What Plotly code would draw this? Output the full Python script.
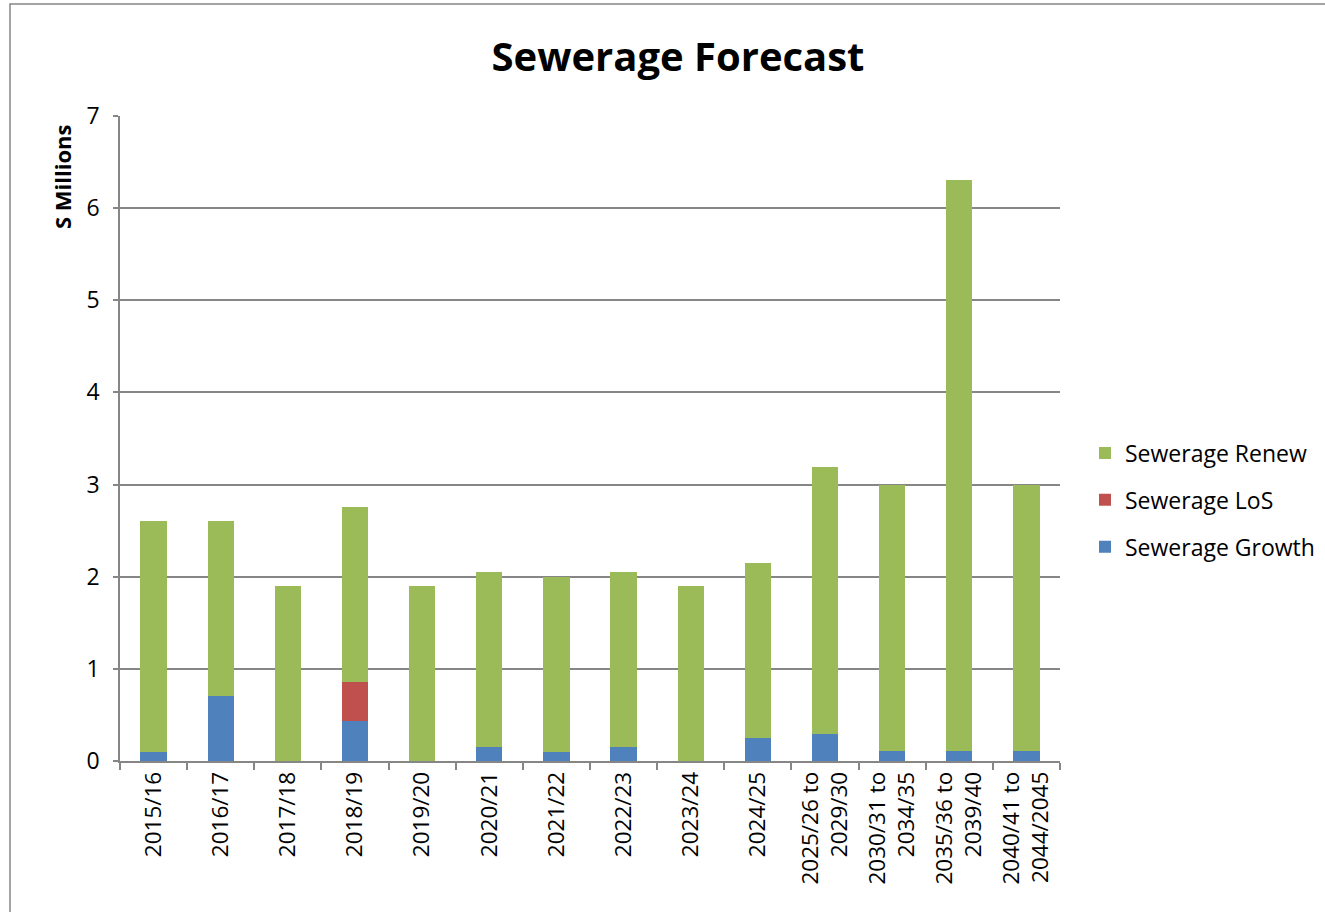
import plotly.graph_objects as go

# Financial years / periods on the category axis
periods = [
    "2015/16", "2016/17", "2017/18", "2018/19", "2019/20", "2020/21",
    "2021/22", "2022/23", "2023/24", "2024/25",
    "2025/26 to<br>2029/30", "2030/31 to<br>2034/35",
    "2035/36 to<br>2039/40", "2040/41 to<br>2044/2045",
]

# Spend per programme, $ millions
growth = [0.10, 0.71, 0.00, 0.43, 0.00, 0.15, 0.10, 0.15, 0.00, 0.25, 0.29, 0.11, 0.11, 0.11]
los = [0.00, 0.00, 0.00, 0.43, 0.00, 0.00, 0.00, 0.00, 0.00, 0.00, 0.00, 0.00, 0.00, 0.00]
renew = [2.50, 1.90, 1.90, 1.90, 1.90, 1.90, 1.90, 1.90, 1.90, 1.90, 2.90, 2.89, 6.20, 2.89]

GREEN = "#9BBB59"
RED = "#C0504D"
BLUE = "#4F81BD"
GRID = "#868686"
FONT = "Open Sans"

fig = go.Figure()
fig.add_trace(go.Bar(x=periods, y=growth, name="Sewerage Growth", marker_color=BLUE,
                     marker_line_width=0, legendgroup="g", legendrank=3))
fig.add_trace(go.Bar(x=periods, y=los, name="Sewerage LoS", marker_color=RED,
                     marker_line_width=0, legendgroup="l", legendrank=2))
fig.add_trace(go.Bar(x=periods, y=renew, name="Sewerage Renew", marker_color=GREEN,
                     marker_line_width=0, legendgroup="r", legendrank=1))

# plot area spans 940 x 645 px; helpers to place chrome in paper units
L, T, W, H = 120, 116, 940, 645


def px_x(px):
    return (px - L) / W


def px_y(py):
    return (T + H - py) / H


fig.update_layout(
    barmode="stack",
    bargap=0.61,
    width=1325,
    height=912,
    margin=dict(l=L, r=1325 - L - W, t=T, b=912 - T - H, autoexpand=False),
    paper_bgcolor="white",
    plot_bgcolor="white",
    font=dict(family=FONT, size=22, color="black"),
    title=dict(text="<b>Sewerage Forecast</b>", x=678 / 1325, xanchor="center",
               xref="container", y=1 - 57 / 912, yanchor="middle",
               font=dict(family=FONT, size=40, color="black")),
    legend=dict(x=px_x(1085), xanchor="left", y=px_y(500), yanchor="middle",
                traceorder="grouped", tracegroupgap=14,
                font=dict(family=FONT, size=23, color="black"),
                bgcolor="rgba(0,0,0,0)"),
    showlegend=True,
)

fig.update_yaxes(
    range=[0, 7], dtick=1, showgrid=True, gridcolor=GRID, gridwidth=1.5,
    showline=True, linecolor=GRID, linewidth=1.5,
    ticks="outside", ticklen=5, tickcolor=GRID, tickwidth=1.5,
    ticklabelstandoff=9,
    tickfont=dict(family=FONT, size=23, color="black"), zeroline=False,
    automargin=False,
)
fig.update_xaxes(
    type="category", tickangle=-90, showgrid=False,
    showline=True, linecolor=GRID, linewidth=1.5,
    ticks="outside", tickson="boundaries", ticklen=7, tickcolor=GRID, tickwidth=1.5,
    tickfont=dict(family=FONT, size=22.5, color="black"),
    automargin=False,
)

# vertical axis caption, sitting near the top of the axis
fig.add_annotation(text="<b>S Millions</b>", xref="paper", yref="paper",
                   x=px_x(62), y=px_y(177), textangle=-90, showarrow=False,
                   xanchor="center", yanchor="middle",
                   font=dict(family=FONT, size=22, color="black"))

# chart frame
fig.add_shape(type="rect", xref="paper", yref="paper",
              x0=px_x(10), y0=px_y(925), x1=px_x(1335), y1=px_y(4),
              line=dict(color=GRID, width=1.5), layer="below")

fig.write_html("out.html")
